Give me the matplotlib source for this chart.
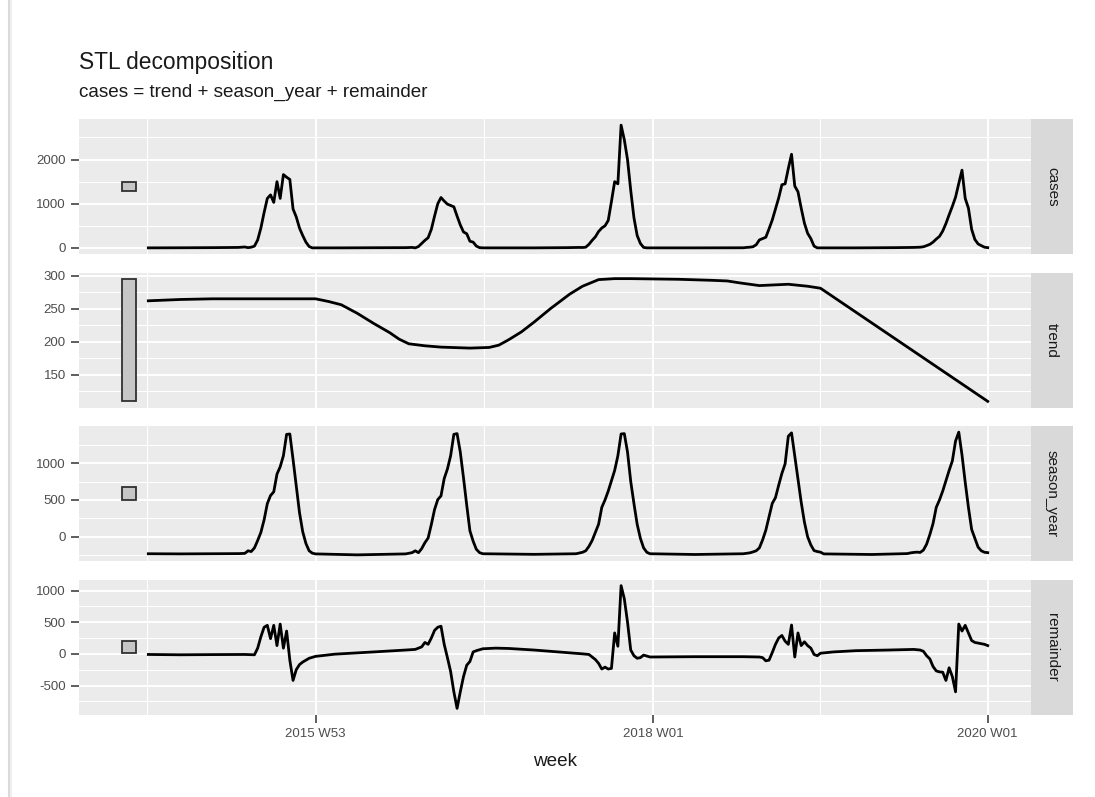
import matplotlib
matplotlib.use("Agg")
import matplotlib.pyplot as plt
from matplotlib.patches import Rectangle
from matplotlib.lines import Line2D
from matplotlib import font_manager

# ---------------- data (week index 0 = 2015 W01) ----------------
cases_wk = [0, 10, 20, 28, 30, 31, 32, 33, 34, 35, 36, 37, 38, 39, 40, 41, 42, 43, 44, 45, 46, 47, 48, 49, 50, 51,
            60, 70, 80, 82, 83, 84, 85, 86, 87, 88, 89, 90, 91, 92, 93, 94, 95, 96, 97, 98, 99, 100, 101, 102, 103, 104,
            120, 130, 134, 135, 136, 137, 138, 139, 140, 141, 142, 143, 144, 145, 146, 147, 148, 149, 150, 151, 152, 153, 154, 155,
            170, 185, 186, 187, 188, 189, 190, 191, 192, 193, 194, 195, 196, 197, 198, 199, 200, 201, 202, 203, 204, 205, 206, 207, 208,
            220, 232, 238, 240, 241, 242, 243, 244, 245, 246, 247, 248, 249, 250, 251, 252, 253, 254, 255, 256, 257, 258, 259, 260, 261]
cases_val = [0, 2, 5, 10, 20, 5, 15, 40, 180, 450, 800, 1120, 1200, 1030, 1500, 1120, 1660, 1600, 1550, 880, 700, 450, 280, 130, 30, 0,
             0, 3, 5, 10, 0, 30, 100, 170, 230, 420, 720, 1000, 1140, 1060, 990, 960, 930, 720, 520, 360, 320, 150, 130, 40, 5, 0,
             0, 5, 10, 8, 15, 80, 170, 250, 370, 450, 500, 620, 1050, 1500, 1450, 2780, 2450, 2000, 1300, 680, 280, 100, 10, 0,
             0, 2, 10, 15, 25, 70, 180, 210, 240, 430, 630, 880, 1130, 1430, 1450, 1800, 2120, 1400, 1270, 900, 560, 330, 210, 40, 0,
             0, 5, 10, 15, 25, 50, 80, 130, 200, 260, 380, 550, 750, 940, 1150, 1460, 1760, 1120, 900, 420, 190, 90, 50, 15, 5]

trend_wk = [0, 5, 10, 20, 30, 45, 52, 56, 60, 65, 70, 75, 78, 81, 86, 91, 100, 106, 109, 112, 116, 120, 125, 131, 135, 140,
            145, 150, 165, 175, 180, 184, 190, 199, 205, 209, 261]
trend_val = [262, 263, 264, 265, 265, 265, 265, 261, 256, 243, 228, 214, 204, 197, 194, 192, 190.5, 191.5, 195, 203, 215, 230,
             250, 272, 284, 294, 295.5, 295.5, 294.5, 293, 292, 289, 285, 287, 284, 281, 110]

season_wk = [0, 10, 20, 28, 30, 31, 32, 33, 34, 35, 36, 37, 38, 39, 40, 41, 42, 43, 44, 45, 46, 47, 48, 49, 50, 51, 52,
             65, 80, 82, 83, 84, 85, 86, 87, 88, 89, 90, 91, 92, 93, 94, 95, 96, 97, 98, 99, 100, 101, 102, 103, 104,
             120, 133, 135, 136, 137, 138, 139, 140, 141, 142, 143, 144, 145, 146, 147, 148, 149, 150, 151, 152, 153, 154, 155, 156,
             170, 185, 187, 188, 189, 190, 191, 192, 193, 194, 195, 196, 197, 198, 199, 200, 201, 202, 203, 204, 205, 206, 207, 208, 209, 210,
             225, 236, 237, 238, 239, 240, 241, 242, 243, 244, 245, 246, 247, 248, 249, 250, 251, 252, 253, 254, 255, 256, 257, 258, 259, 260, 261]
season_val = [-230, -232, -230, -228, -225, -190, -200, -150, -50, 60, 230, 450, 560, 610, 850, 950, 1100, 1390, 1395, 1050, 690, 330, 70, -90, -190, -222, -232,
              -245, -232, -215, -190, -215, -160, -80, -16, 167, 370, 505, 555, 790, 920, 1100, 1390, 1400, 1150, 800, 430, 80, -60, -170, -215, -230,
              -238, -230, -210, -190, -130, -50, 60, 170, 400, 500, 620, 760, 900, 1100, 1395, 1400, 1150, 750, 450, 170, -20, -150, -210, -230,
              -240, -230, -218, -205, -190, -150, -42, 89, 271, 453, 531, 700, 860, 990, 1365, 1410, 1100, 800, 470, 200, 0, -110, -187, -200, -208, -232,
              -240, -228, -218, -212, -208, -212, -180, -100, 30, 180, 400, 500, 620, 760, 900, 1030, 1300, 1420, 1110, 740, 400, 100, -20, -140, -190, -210, -215]

rem_wk = [0, 10, 20, 30, 33, 34, 35, 36, 37, 38, 39, 40, 41, 42, 43, 44, 45, 46, 47, 48, 49, 50, 52, 58, 70, 80,
          83, 84, 85, 86, 87, 88, 89, 90, 91, 92, 93, 94, 95, 96, 97, 98, 99, 100, 101, 102, 104, 108, 112, 120, 130, 135, 137,
          139, 140, 141, 142, 143, 144, 145, 146, 147, 148, 149, 150, 151, 152, 153, 154, 156, 170, 185,
          190, 191, 192, 193, 194, 195, 196, 197, 198, 199, 200, 201, 202, 203, 204, 205, 206, 207, 208, 209, 213, 220, 230, 238,
          240, 241, 242, 243, 244, 245, 246, 247, 248, 249, 250, 251, 252, 253, 254, 255, 256, 257, 258, 259, 260, 261]
rem_val = [-10, -15, -12, -10, -15, 90, 270, 420, 450, 240, 450, 130, 470, 90, 360, -100, -420, -250, -170, -130, -100, -70, -40, -5, 30, 60,
           70, 90, 110, 180, 150, 250, 370, 420, 436, 150, -60, -280, -600, -861, -600, -360, -180, -120, 30, 50, 80, 90, 85, 60, 20, 0, -10,
           -90, -150, -240, -210, -240, -230, 330, 120, 1077, 870, 500, 60, -30, -70, -60, -20, -50, -45, -45,
           -50, -60, -110, -100, 20, 150, 250, 290, 200, 150, 455, -50, 330, 130, 190, 130, 90, -10, -30, 10, 30, 50, 60, 70,
           60, 40, -30, -80, -200, -270, -285, -290, -420, -220, -360, -600, 470, 360, 450, 330, 210, 180, 170, 160, 150, 130]

panel_names = ["cases", "trend", "season_year", "remainder"]
series = [(cases_wk, cases_val), (trend_wk, trend_val), (season_wk, season_val), (rem_wk, rem_val)]
y_major = [[0, 1000, 2000], [150, 200, 250, 300], [0, 500, 1000], [-500, 0, 500, 1000]]
y_minor = [[500, 1500, 2500], [125, 175, 225, 275], [-250, 250, 750, 1250], [-750, -250, 250, 750]]
x_ticks = [52, 157, 261]
x_ticklabels = ["2015 W53", "2018 W01", "2020 W01"]
x_minor = [-0.5, 104.5, 209]

# ---------------- layout ----------------
W, H = 1095, 797
fig = plt.figure(figsize=(W / 100, H / 100), dpi=100)
fig.patch.set_facecolor("white")

PL, PR, SR = 79, 1031, 1073
tops = [119, 272.5, 426, 579.5]
PH = 135

def rect(left, top, right, bottom):
    return [left / W, 1 - bottom / H, (right - left) / W, (bottom - top) / H]

avail = {f.name for f in font_manager.fontManager.ttflist}
tick_family = "Liberation Sans Narrow" if "Liberation Sans Narrow" in avail else "Liberation Sans"
base_family = "Liberation Sans"

# faint frame shadow at the left edge of the screenshot
fig.add_artist(Line2D([8.5 / W, 8.5 / W], [0, 1], color="#DADADA", lw=2.2, transform=fig.transFigure))
fig.add_artist(Line2D([10.5 / W, 10.5 / W], [0, 1], color="#EFEFEF", lw=1.5, transform=fig.transFigure))

bar_x0, bar_x1 = -8.1, -3.7
all_min_x = min(bar_x0, min(cases_wk))
all_max_x = max(cases_wk)
xr = all_max_x - all_min_x
xlim = (all_min_x - 0.05 * xr, all_max_x + 0.05 * xr)

ranges = [max(v) - min(v) for _, v in series]
bar_h = min(ranges)

for i, (name, (wk, val)) in enumerate(zip(panel_names, series)):
    ax = fig.add_axes(rect(PL, tops[i], PR, tops[i] + PH))
    ax.set_facecolor("#EBEBEB")
    for s in ax.spines.values():
        s.set_visible(False)
    lo, hi = min(val), max(val)
    r = hi - lo
    ax.set_ylim(lo - 0.05 * r, hi + 0.05 * r)
    ax.set_xlim(*xlim)
    for y in y_minor[i]:
        ax.axhline(y, color="white", lw=0.75, zorder=0)
    for y in y_major[i]:
        ax.axhline(y, color="white", lw=1.4, zorder=0)
    for x in x_minor:
        ax.axvline(x, color="white", lw=0.75, zorder=0)
    for x in x_ticks:
        ax.axvline(x, color="white", lw=1.4, zorder=0)
    mid = (lo + hi) / 2
    ax.add_patch(Rectangle((bar_x0, mid - bar_h / 2), bar_x1 - bar_x0, bar_h,
                           facecolor="#C6C6C6", edgecolor="#303030", lw=1.3, zorder=2))
    ax.plot(wk, val, color="black", lw=2.0, zorder=3, solid_joinstyle="round")
    ax.set_yticks(y_major[i])
    ax.set_yticklabels([str(t) for t in y_major[i]], fontsize=9.5, color="#4D4D4D", family=tick_family)
    ax.tick_params(axis="y", length=5.5, width=1.1, color="#333333", pad=4)
    ax.set_xticks(x_ticks)
    if i == 3:
        ax.set_xticklabels(x_ticklabels, fontsize=9.5, color="#4D4D4D", family=tick_family)
        ax.tick_params(axis="x", length=5.5, width=1.1, color="#333333", pad=4)
    else:
        ax.set_xticklabels([])
        ax.tick_params(axis="x", length=0)
    sax = fig.add_axes(rect(PR, tops[i], SR, tops[i] + PH))
    sax.set_facecolor("#D9D9D9")
    sax.set_xticks([]); sax.set_yticks([])
    for s in sax.spines.values():
        s.set_visible(False)
    sax.text(0.5, 0.5, name, rotation=-90, ha="center", va="center", fontsize=11,
             color="#1A1A1A", family=base_family, transform=sax.transAxes)

fig.text(PL / W, 1 - 69 / H, "STL decomposition", fontsize=16.4, color="#1A1A1A",
         family=base_family, va="baseline", ha="left")
fig.text(PL / W, 1 - 97 / H, "cases = trend + season_year + remainder", fontsize=13.6,
         color="#1A1A1A", family=base_family, va="baseline", ha="left")
fig.text((PL + PR) / 2 / W, 1 - 762 / H, "week", fontsize=13.6, color="#1A1A1A",
         family=base_family, va="center", ha="center")

fig.savefig("out.png", dpi=100, facecolor="white")
